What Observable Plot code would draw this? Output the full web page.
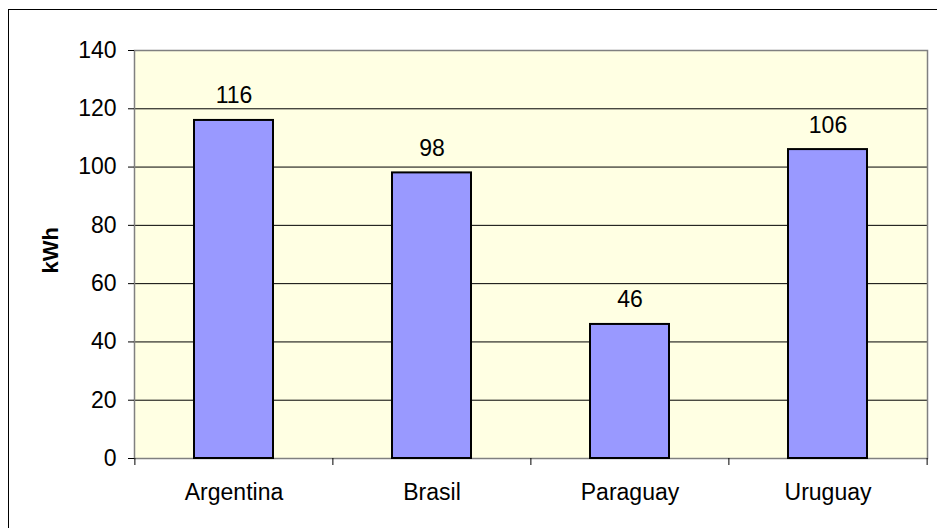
<!DOCTYPE html>
<html>
<head>
<meta charset="utf-8">
<script src="https://cdn.jsdelivr.net/npm/d3@7"></script>
<script src="https://cdn.jsdelivr.net/npm/@observablehq/plot@0.6"></script>
<style>
  html, body { margin: 0; padding: 0; background: #fff; overflow: hidden; }
  #wrap { position: relative; width: 937px; height: 528px; overflow: hidden; }
  #box { position: absolute; left: 8px; top: 9px; width: 1200px; height: 1200px;
         border-left: 1px solid #000; border-top: 1px solid #000; pointer-events: none; }
  #chart svg { font-family: "Liberation Sans", Arial, sans-serif; }
</style>
</head>
<body>
<div id="wrap"><div id="chart"></div><div id="box"></div></div>
<script>
// Electricity consumption per country (kWh)
const countries = ["Argentina", "Brasil", "Paraguay", "Uruguay"];
const consumption = [116, 98, 46, 106];
const yTicks = [0, 20, 40, 60, 80, 100, 120, 140];
const gridValues = [20, 40, 60, 80, 100, 120];

const rows = countries.map((c, i) => ({country: c, value: consumption[i]}));

const W = 937, H = 528;
const mL = 134, mR = 10, mT = 50, mB = 70;
const step = (W - mL - mR) / countries.length;

const chart = Plot.plot({
  width: W,
  height: H,
  marginLeft: mL,
  marginRight: mR,
  marginTop: mT,
  marginBottom: mB,
  style: {fontFamily: "Liberation Sans, Arial, sans-serif", color: "#000", background: "transparent"},
  x: {domain: countries, paddingInner: 0.6, paddingOuter: 0.3},
  y: {domain: [0, 140]},
  marks: [
    Plot.frame({fill: "#FFFFE3", stroke: null}),
    Plot.gridY(gridValues, {stroke: "#000", strokeOpacity: 1}),
    Plot.frame({stroke: "#808080", strokeWidth: 1.5}),
    Plot.barY(rows, {x: "country", y: "value", fill: "#9999FF", stroke: "#000", strokeWidth: 2}),
    Plot.text(rows, {x: "country", y: "value", text: d => String(d.value), lineAnchor: "bottom", dy: -17, fontSize: 23, fill: "#000"}),
    // category separators on the category axis
    Plot.ruleX(countries, {x: d => d, y1: 0, y2: 0, dx: -step / 2, insetBottom: -7, stroke: "#000"}),
    Plot.ruleX(countries.slice(-1), {x: d => d, y1: 0, y2: 0, dx: step / 2, insetBottom: -7, stroke: "#000"}),
    Plot.axisY(yTicks, {tickSize: 6, tickPadding: 12, fontSize: 23, label: null, stroke: "#000"}),
    Plot.axisX({tickSize: 0, tickPadding: 25, fontSize: 23, label: null}),
    Plot.text(["kWh"], {frameAnchor: "left", rotate: -90, dx: -84, dy: 19, fontWeight: "bold", fontSize: 22, fill: "#000"})
  ]
});
document.getElementById("chart").appendChild(chart);
</script>
</body>
</html>
